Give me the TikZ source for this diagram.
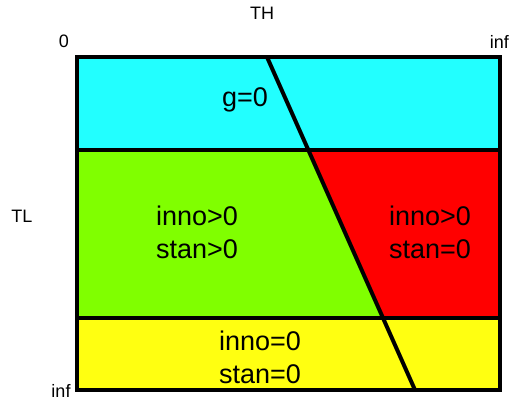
\documentclass[tikz,border=0pt]{standalone}
\usepackage{fontspec}
\setmainfont{Liberation Sans}
\usetikzlibrary{positioning}
\definecolor{gzero}{HTML}{22FFFF}
\definecolor{both}{HTML}{80FF00}
\definecolor{innoonly}{HTML}{FF0000}
\definecolor{none}{HTML}{FFFF11}

\begin{document}
\begin{tikzpicture}[x=1pt, y=-1pt,
    edge/.style={line width=4pt},
    region/.style={font=\fontsize{27}{33}\selectfont, align=center},
    axis/.style={font=\fontsize{18}{20}\selectfont}]
    \useasboundingbox (0,0) rectangle (510,405);
    % corners and splits
    \coordinate (tl) at (77,57);
    \coordinate (br) at (500,390);
    \coordinate (ml) at (77,150);
    \coordinate (mr) at (500,150);
    \coordinate (ll) at (77,318);
    \coordinate (lr) at (500,318);
    \coordinate (dtop) at (267,57);
    \coordinate (dbot) at (415,390);
    \coordinate (d1) at (308,150);
    \coordinate (d2) at (383,318);

    \fill[gzero] (tl) rectangle (mr);
    \fill[both] (ml) -- (d1) -- (d2) -- (ll) -- cycle;
    \fill[innoonly] (d1) -- (mr) -- (lr) -- (d2) -- cycle;
    \fill[none] (ll) rectangle (br);

    \draw[edge] (ml) -- (mr);
    \draw[edge] (ll) -- (lr);
    \draw[edge] (dtop) -- (dbot);
    \draw[edge] (tl) rectangle (br);

    \node[region] (g) at (245,100) {g=0};
    \node[region] (left) at (197,232) {inno>0\\stan>0};
    \node[region] (right) at (430,232) {inno>0\\stan=0};
    \node[region] (bottom) at (260,357) {inno=0\\stan=0};

    \node[axis] (th) at (262,13) {TH};
    \node[axis] (zero) at (64,41) {0};
    \node[axis, anchor=east, inner sep=0pt] (thinf) at (509,42) {inf};
    \node[axis] (tl label) at (22,216) {TL};
    \node[axis] (tlinf) at (61,391) {inf};
\end{tikzpicture}
\end{document}
